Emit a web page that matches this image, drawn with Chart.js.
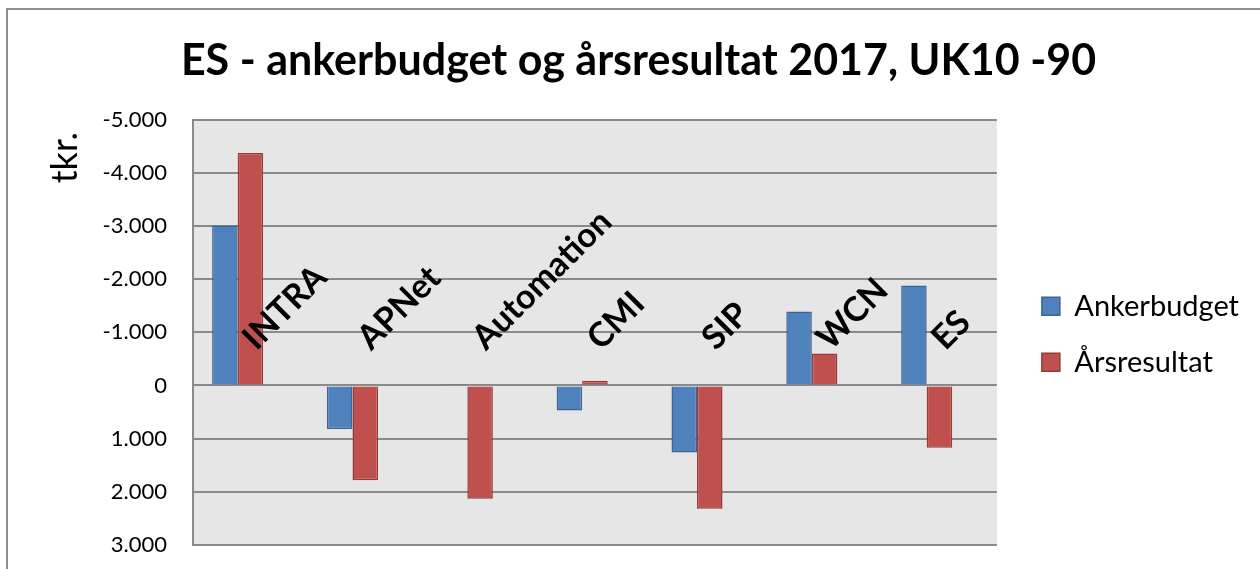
<!DOCTYPE html>
<html>
<head>
<meta charset="utf-8">
<script src="https://cdn.jsdelivr.net/npm/chart.js@4"></script>
<style>
    html, body { margin: 0; padding: 0; background: #fff; }
    #wrap { width: 1260px; height: 569px; position: relative; }
</style>
</head>
<body>
<div id="wrap"><canvas id="chart"></canvas></div>
<script>
// Chart data
const chartTitle = 'ES - ankerbudget og årsresultat 2017, UK10 -90';
const axisTitle = 'tkr.';
const categories = ['INTRA', 'APNet', 'Automation', 'CMI', 'SIP', 'WCN', 'ES'];
const ankerbudget = [-3010, 820, -30, 470, 1260, -1390, -1880];
const aarsresultat = [-4370, 1780, 2130, -90, 2320, -600, 1170];
// empty third series in the source chart, keeps the bar pairs left of centre
const emptySeries = [];
const yMin = -5000;
const yMax = 3000;
const yStep = 1000;

// "-5.000" style labels
function formatTick(value) {
    const abs = Math.abs(value);
    let txt = String(abs);
    if (abs >= 1000) {
        txt = Math.floor(abs / 1000) + '.' + String(abs % 1000).padStart(3, '0');
    }
    return (value < 0 ? '-' : '') + txt;
}

// Grey plot area and outer frame
const plotBackground = {
    id: 'plotBackground',
    beforeDraw(chart) {
        const { ctx, chartArea: a } = chart;
        ctx.save();
        ctx.fillStyle = '#fff';
        ctx.fillRect(0, 0, chart.width, chart.height);
        ctx.strokeStyle = '#8f8f8f';
        ctx.lineWidth = 2;
        ctx.strokeRect(7, 9, chart.width + 20, chart.height + 20);
        ctx.fillStyle = '#e6e6e6';
        ctx.fillRect(a.left, a.top, a.right - a.left, a.bottom - a.top);
        ctx.restore();
    }
};

// Rotated category names sitting on the zero line
const categoryLabels = {
    id: 'categoryLabels',
    afterDatasetsDraw(chart) {
        const { ctx, scales: { x, y } } = chart;
        const zero = y.getPixelForValue(0);
        ctx.save();
        ctx.font = 'bold 34px Lato';
        ctx.fillStyle = '#000';
        ctx.textAlign = 'left';
        ctx.textBaseline = 'alphabetic';
        categories.forEach((name, i) => {
            ctx.save();
            ctx.translate(x.getPixelForValue(i) + 6, zero - 34);
            ctx.rotate(-Math.PI / 4);
            ctx.fillText(name, 0, 0);
            ctx.restore();
        });
        ctx.restore();
    }
};

// Axis title at the top of the value axis
const valueAxisTitle = {
    id: 'valueAxisTitle',
    afterDraw(chart) {
        const { ctx, chartArea: a } = chart;
        ctx.save();
        ctx.translate(65, a.top + 38);
        ctx.rotate(-Math.PI / 2);
        ctx.font = '36px Lato';
        ctx.fillStyle = '#000';
        ctx.textAlign = 'center';
        ctx.textBaseline = 'middle';
        ctx.fillText(axisTitle, 0, 0);
        ctx.restore();
    }
};

// Push the legend a bit further from the plot than its label padding gives
const legendGap = {
    id: 'legendGap',
    afterLayout(chart) {
        const lg = chart.legend;
        lg.left += 18;
        lg.right += 18;
        lg.top += 2;
        lg.bottom += 2;
    }
};

const ctx = document.getElementById('chart').getContext('2d');
const chart = new Chart(ctx, {
    type: 'bar',
    data: {
        labels: categories,
        datasets: [{
            label: 'Ankerbudget',
            data: ankerbudget,
            backgroundColor: '#4f81bd',
            borderColor: '#3a6596',
            borderWidth: 1.5
        }, {
            label: 'Årsresultat',
            data: aarsresultat,
            backgroundColor: '#c0504d',
            borderColor: '#943c3a',
            borderWidth: 1.5
        }, {
            label: '',
            data: emptySeries,
            backgroundColor: '#9bbb59'
        }]
    },
    options: {
        responsive: true,
        maintainAspectRatio: false,
        animation: false,
        categoryPercentage: 0.667,
        barPercentage: 1,
        layout: { padding: { top: 8, left: 46, right: 29, bottom: 24 } },
        plugins: {
            title: {
                display: true,
                text: chartTitle,
                color: '#000',
                font: { family: 'Lato', size: 43, weight: 'bold' },
                padding: { top: 27, bottom: 33 }
            },
            legend: {
                position: 'right',
                fullSize: false,
                labels: {
                    boxWidth: 18,
                    boxHeight: 18,
                    padding: 27,
                    color: '#000',
                    font: { family: 'Lato', size: 29 },
                    filter: item => item.text !== ''
                }
            },
            tooltip: { enabled: false }
        },
        scales: {
            x: { display: false },
            y: {
                reverse: true,
                min: yMin,
                max: yMax,
                ticks: {
                    stepSize: yStep,
                    padding: 0,
                    color: '#000',
                    font: { family: 'Lato', size: 22 },
                    callback: formatTick
                },
                grid: {
                    color: '#8a8a8a',
                    lineWidth: 2,
                    drawTicks: true,
                    tickLength: 26,
                    tickColor: 'rgba(0,0,0,0)'
                },
                border: { color: '#8a8a8a', width: 2 },
                afterFit: s => { s.width = 147; }
            }
        }
    },
    plugins: [plotBackground, categoryLabels, valueAxisTitle, legendGap]
});
</script>
</body>
</html>
